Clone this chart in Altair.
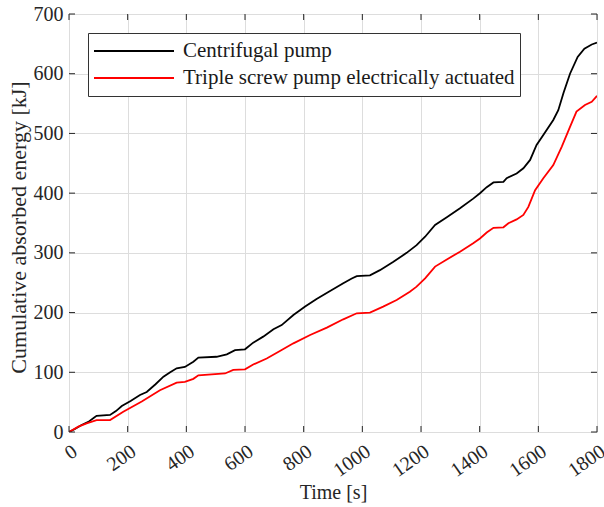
import altair as alt
import pandas as pd

# Cumulative absorbed energy [kJ] versus time [s]
time_centrifugal = [0, 20, 43, 66, 85, 94, 140, 160, 180, 210, 242, 265, 295, 322, 345,
                    367, 395, 424, 441, 503, 538, 566, 600, 628, 662, 697, 725, 765, 805,
                    844, 890, 935, 964, 981, 1026, 1060, 1106, 1151, 1185, 1214, 1248,
                    1288, 1333, 1378, 1401, 1424, 1447, 1481, 1492, 1526, 1549, 1572,
                    1594, 1617, 1651, 1668, 1686, 1708, 1734, 1757, 1782, 1800]
energy_centrifugal = [0, 5, 11.7, 17, 24, 27, 28.5, 35, 43.5, 52, 62, 67, 80, 92.7, 100,
                      106.7, 109, 117.8, 124.5, 126, 130, 137, 138.5, 149.6, 159.7, 172,
                      179, 196, 210, 222.8, 236, 249, 257, 261, 262.4, 271, 285, 300, 313,
                      327, 346.7, 359.6, 374.7, 390.8, 399.8, 410, 418, 419, 425, 433,
                      441.7, 455.6, 480.7, 497.5, 522.6, 539, 568, 600, 628, 642, 649, 652]

time_screw = [0, 32, 60, 94, 140, 185, 248, 310, 367, 395, 424, 441, 532, 560, 600, 628,
              674, 719, 765, 822, 879, 935, 981, 1026, 1071, 1117, 1162, 1185, 1214, 1248,
              1288, 1333, 1378, 1401, 1424, 1447, 1481, 1498, 1526, 1549, 1566, 1589,
              1617, 1651, 1680, 1708, 1730, 1759, 1782, 1800]
energy_screw = [0, 9, 14.5, 20, 20, 34, 51, 70, 82.7, 84, 89, 95, 98, 104, 105, 113, 123,
                135.7, 148.5, 162.5, 174.8, 188.7, 198.8, 199.9, 210, 221, 235, 243.4,
                257.4, 277, 289, 302, 316, 324, 334, 342, 342.8, 349.5, 356, 363.5, 377,
                405, 425, 447, 478, 511, 536.6, 547.7, 553, 563]

series_names = ["Centrifugal pump", "Triple screw pump electrically actuated"]
series_colors = ["#000000", "#ff0000"]

x_ticks = [0, 200, 400, 600, 800, 1000, 1200, 1400, 1600, 1800]
y_ticks = [0, 100, 200, 300, 400, 500, 600, 700]

W, H = 528, 418
FONT = "Liberation Serif"
TEXT = "#262626"

df = pd.concat([
    pd.DataFrame({"t": time_centrifugal, "e": energy_centrifugal, "series": series_names[0],
                  "order": range(len(time_centrifugal))}),
    pd.DataFrame({"t": time_screw, "e": energy_screw, "series": series_names[1],
                  "order": range(len(time_screw))}),
])

x_scale = alt.Scale(domain=[0, 1800], nice=False, zero=False)
y_scale = alt.Scale(domain=[0, 700], nice=False, zero=False)

x_axis = alt.Axis(values=x_ticks, format="d", title="Time [s]", grid=True, ticks=False,
                  domain=False, labelAngle=325, labelAlign="right", labelBaseline="top",
                  labelPadding=9, labelFont=FONT, labelFontSize=20, labelColor=TEXT,
                  titleFont=FONT, titleFontSize=20, titleFontWeight="normal", titleColor=TEXT,
                  titleX=W / 2, titleY=66, titleBaseline="alphabetic", labelFlush=False,
                  labelOverlap=False)
y_axis = alt.Axis(values=y_ticks, format="d", title="Cumulative absorbed energy [kJ]",
                  grid=True, ticks=False, domain=False, labelPadding=6,
                  labelFont=FONT, labelFontSize=20, labelColor=TEXT,
                  titleFont=FONT, titleFontSize=22, titleFontWeight="normal", titleColor=TEXT,
                  titleAngle=270, titleX=-51, titleY=213, titleBaseline="middle",
                  labelFlush=False, labelOverlap=False)

lines = alt.Chart(df).mark_line(strokeWidth=1.8, clip=True).encode(
    x=alt.X("t:Q", scale=x_scale, axis=x_axis),
    y=alt.Y("e:Q", scale=y_scale, axis=y_axis),
    order="order:Q",
    color=alt.Color("series:N",
                    scale=alt.Scale(domain=series_names, range=series_colors),
                    legend=alt.Legend(orient="none", legendX=19, legendY=19, title=None,
                                      symbolType="stroke", symbolSize=6400,
                                      symbolStrokeWidth=1.8, clipHeight=26, rowPadding=1,
                                      padding=5, labelOffset=8, labelLimit=600,
                                      labelFont=FONT, labelFontSize=21, labelColor="#1a1a1a",
                                      strokeColor="#333333", fillColor="white",
                                      cornerRadius=0)),
)

tick_color = "#262626"
xt = pd.DataFrame({"t": x_ticks})
yt = pd.DataFrame({"e": y_ticks})

bottom_ticks = alt.Chart(xt).mark_rule(color=tick_color, strokeWidth=1).encode(
    x=alt.X("t:Q", scale=x_scale), y=alt.value(H), y2=alt.value(H - 6))
top_ticks = alt.Chart(xt).mark_rule(color=tick_color, strokeWidth=1).encode(
    x=alt.X("t:Q", scale=x_scale), y=alt.value(0), y2=alt.value(6))
left_ticks = alt.Chart(yt).mark_rule(color=tick_color, strokeWidth=1).encode(
    y=alt.Y("e:Q", scale=y_scale), x=alt.value(0), x2=alt.value(6))
right_ticks = alt.Chart(yt).mark_rule(color=tick_color, strokeWidth=1).encode(
    y=alt.Y("e:Q", scale=y_scale), x=alt.value(W), x2=alt.value(W - 6))

chart = alt.layer(lines, bottom_ticks, top_ticks, left_ticks, right_ticks).properties(
    width=W, height=H,
    autosize=alt.AutoSizeParams(type="none"),
    padding={"left": 69, "top": 14, "right": 7, "bottom": 75},
).configure_view(
    stroke="#333333", strokeWidth=1.3
).configure_axis(
    gridColor="#dedede", gridWidth=1, gridOpacity=1
).configure(background="white")

chart.save("out.html", embed_options={"renderer": "svg", "actions": False})
